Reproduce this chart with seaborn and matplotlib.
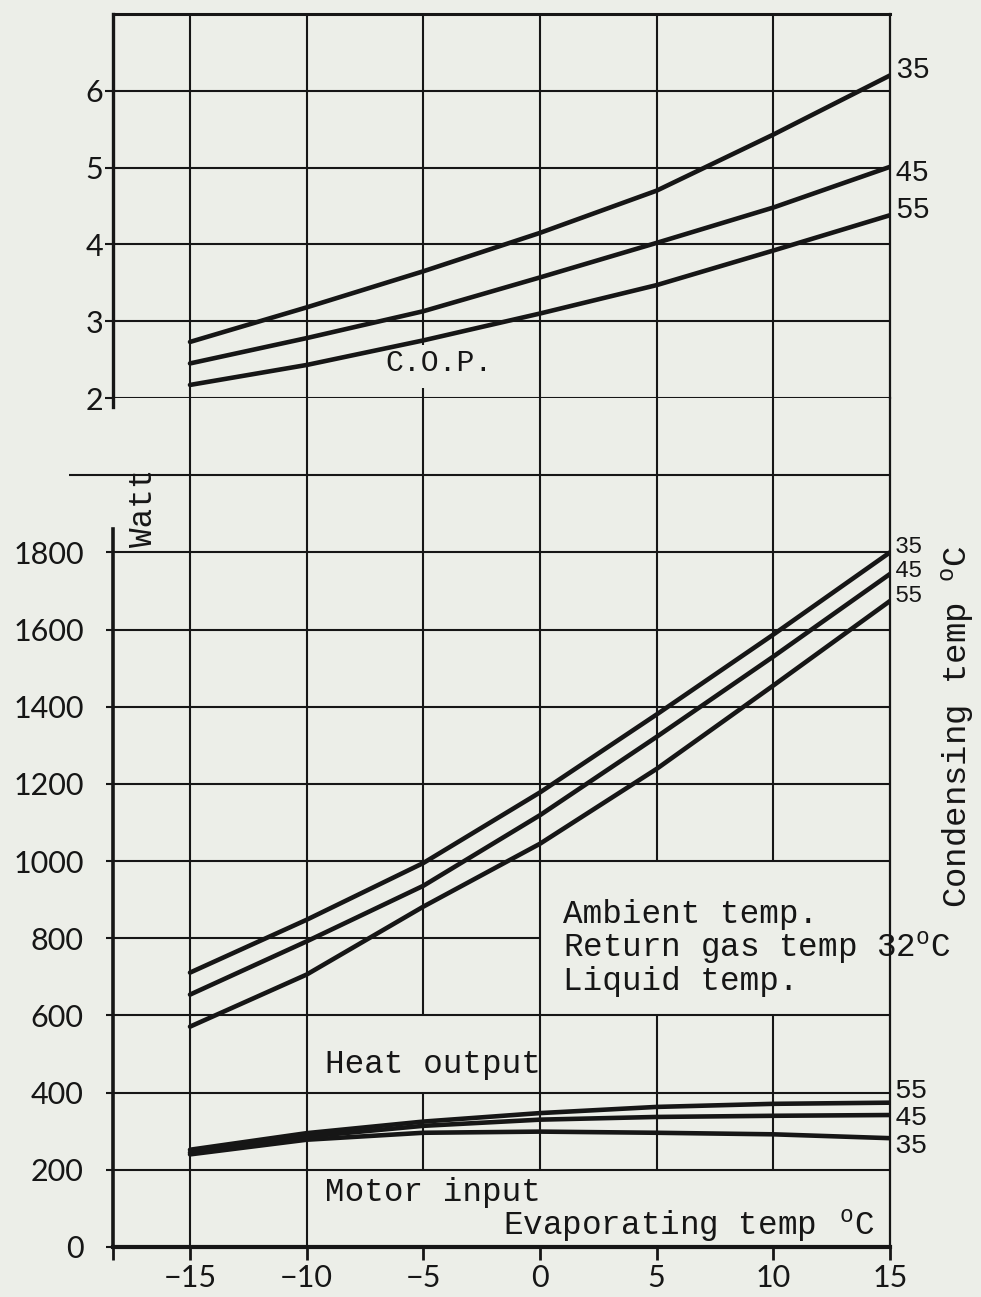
import matplotlib
matplotlib.use("Agg")
import matplotlib.pyplot as plt
import numpy as np
import pandas as pd
import seaborn as sns

# ---------------- data ----------------
evap_temp = [-15, -10, -5, 0, 5, 10, 15]          # Evaporating temp °C
cond_temps = [35, 45, 55]                          # Condensing temp °C

cop_35 = [2.73, 3.18, 3.65, 4.15, 4.70, 5.43, 6.20]
cop_45 = [2.45, 2.78, 3.13, 3.57, 4.02, 4.48, 5.01]
cop_55 = [2.17, 2.43, 2.75, 3.10, 3.47, 3.92, 4.38]

heat_35 = [711, 848, 995, 1178, 1380, 1587, 1800]
heat_45 = [654, 792, 936, 1119, 1322, 1530, 1744]
heat_55 = [571, 706, 882, 1045, 1239, 1455, 1674]

motor_35 = [240, 278, 296, 299, 296, 292, 282]
motor_45 = [245, 286, 314, 330, 337, 340, 342]
motor_55 = [252, 295, 325, 347, 363, 371, 374]

x_ticks = [-15, -10, -5, 0, 5, 10, 15]
watt_ticks = [0, 200, 400, 600, 800, 1000, 1200, 1400, 1600, 1800]
cop_ticks = [2, 3, 4, 5, 6]

# end-of-curve label positions (text placement), order 35, 45, 55
cop_label_y = [6.27, 4.93, 4.45]
heat_label_y = [1815, 1752, 1688]
motor_label_y = [262, 335, 405]

# ---------------- long-form frames ----------------
def long(series, name):
    rows = []
    for c, vals in zip(cond_temps, series):
        for x, v in zip(evap_temp, vals):
            rows.append({"evap": x, "value": v, "curve": f"{name}{c}"})
    return rows

df_cop = pd.DataFrame(long([cop_35, cop_45, cop_55], "cop"))
df_w = pd.DataFrame(long([heat_35, heat_45, heat_55], "heat")
                    + long([motor_35, motor_45, motor_55], "motor"))

# ---------------- style ----------------
paper = "#eceee8"
ink = "#161616"
sns.set_theme(style="white", rc={"figure.facecolor": paper, "axes.facecolor": paper})
plt.rcParams["font.family"] = ["Lato", "DejaVu Sans"]
plt.rcParams["mathtext.fontset"] = "custom"
plt.rcParams["mathtext.rm"] = "Liberation Mono"
plt.rcParams["mathtext.it"] = "Liberation Mono"

W, H = 981, 1297
fig = plt.figure(figsize=(W / 100, H / 100), dpi=100, facecolor=paper)


def box(x0, y0, x1, y1):
    return [x0 / W, 1 - y1 / H, (x1 - x0) / W, (y1 - y0) / H]


ax_cop = fig.add_axes(box(113, 14, 890, 398))
ax_w = fig.add_axes(box(113, 398, 890, 1247))
XL = (-18.3, 15)
for ax in (ax_cop, ax_w):
    ax.set_xlim(*XL)
    ax.set_facecolor("none")
ax_cop.set_ylim(2, 7)
ax_w.set_ylim(0, 2200)

grid_kw = dict(color=ink, lw=1.5, zorder=1)

# --- grid: lower (Watt) panel, with gaps left around the lettering
vgaps = {-5: [(400, 600), (0, 200)], 0: [(0, 200)], 5: [(0, 200), (600, 1000)],
         10: [(0, 200), (600, 1000)]}
for xv in x_ticks[:-1]:
    segs = [(0, 2200)]
    for g0, g1 in sorted(vgaps.get(xv, [])):
        new = []
        for s0, s1 in segs:
            if g1 <= s0 or g0 >= s1:
                new.append((s0, s1))
            else:
                if s0 < g0:
                    new.append((s0, g0))
                if g1 < s1:
                    new.append((g1, s1))
        segs = new
    for s0, s1 in segs:
        ax_w.vlines(xv, s0, s1, **grid_kw)
for yv in watt_ticks[1:]:
    ax_w.hlines(yv, XL[0], 0 if yv == 800 else XL[1], **grid_kw)
ax_w.hlines(2000, -20.2, XL[1], clip_on=False, **grid_kw)

# --- grid: upper (COP) panel
for xv in x_ticks[:-1]:
    if xv == -5:
        ax_cop.vlines(xv, 2, 2.13, **grid_kw)
        ax_cop.vlines(xv, 2.69, 7, **grid_kw)
    else:
        ax_cop.vlines(xv, 2, 7, **grid_kw)
for yv in cop_ticks:
    ax_cop.hlines(yv, XL[0], XL[1], **grid_kw)

# ---------------- curves ----------------
sns.lineplot(data=df_cop, x="evap", y="value", units="curve", estimator=None,
             color=ink, lw=3.3, ax=ax_cop, legend=False, zorder=3)
sns.lineplot(data=df_w, x="evap", y="value", units="curve", estimator=None,
             color=ink, lw=3.3, ax=ax_w, legend=False, zorder=3)

# ---------------- spines & ticks ----------------
for ax in (ax_cop, ax_w):
    for s in ax.spines.values():
        s.set_color(ink)
    ax.set_xlabel("")
    ax.set_ylabel("")

ax_cop.spines["bottom"].set_visible(False)
ax_cop.spines["top"].set_linewidth(2.2)
ax_cop.spines["right"].set_linewidth(1.6)
ax_cop.spines["left"].set_linewidth(2.4)
ax_cop.spines["left"].set_bounds(1.88, 7)
ax_cop.set_xticks([])
ax_cop.set_yticks(cop_ticks)
ax_cop.set_yticklabels([str(t) for t in cop_ticks])
ax_cop.tick_params(axis="y", direction="out", length=6, width=1.5, pad=1,
                   labelsize=22, colors=ink, labelcolor=ink, left=True)

ax_w.spines["top"].set_visible(False)
ax_w.spines["right"].set_linewidth(1.6)
ax_w.spines["left"].set_linewidth(2.6)
ax_w.spines["left"].set_bounds(0, 1860)
ax_w.spines["bottom"].set_linewidth(3.0)
ax_w.set_yticks(watt_ticks)
ax_w.set_yticklabels([str(t) for t in watt_ticks])
ax_w.tick_params(axis="y", direction="out", length=5, width=1.5, pad=16,
                 labelsize=22, colors=ink, labelcolor=ink, left=True)
ax_w.set_xticks(x_ticks)
ax_w.set_xticklabels([str(t).replace("-", "\u2212") for t in x_ticks])
ax_w.set_xticks([XL[0]], minor=True)
ax_w.tick_params(axis="x", which="both", direction="out", length=9, width=2,
                 pad=3, labelsize=22, colors=ink, labelcolor=ink, bottom=True)

for t in ax_cop.get_yticklabels() + ax_w.get_yticklabels() + ax_w.get_xticklabels():
    t.set_fontweight("normal")
    t.set_color(ink)

# ---------------- text ----------------
mono = "Liberation Mono"
tkw = dict(family=mono, color=ink)

for c, yl in zip(cond_temps, cop_label_y):
    ax_cop.text(15.2, yl, str(c), fontsize=21, ha="left", va="center", clip_on=False, **tkw)
for c, yl in zip(cond_temps, heat_label_y):
    ax_w.text(15.2, yl, str(c), fontsize=17, ha="left", va="center", clip_on=False, **tkw)
for c, yl in zip(cond_temps, motor_label_y):
    ax_w.text(15.2, yl, str(c), fontsize=20, ha="left", va="center", clip_on=False, **tkw)

fs = 23.5
ax_cop.text(-6.64, 2.45, "C.O.P.", fontsize=21.5, ha="left", va="center", **tkw)
ax_w.text(-9.2, 472, "Heat output", fontsize=fs, ha="left", va="center", **tkw)
ax_w.text(-9.2, 140, "Motor input", fontsize=fs, ha="left", va="center", **tkw)
ax_w.text(-1.58, 57, "Evaporating temp $\\,^{\\mathrm{o}}$C", fontsize=fs, ha="left",
          va="center", **tkw)
ax_w.text(0.99, 862, "Ambient temp.", fontsize=fs, ha="left", va="center", **tkw)
ax_w.text(0.99, 776, "Return gas temp 32$^{\\mathrm{o}}$C", fontsize=fs, ha="left",
          va="center", clip_on=False, **tkw)
ax_w.text(0.99, 688, "Liquid temp.", fontsize=fs, ha="left", va="center", **tkw)
ax_w.text(-17.0, 1915, "Watt", fontsize=fs, rotation=90, ha="center", va="center", **tkw)
ax_w.text(17.9, 1349, "Condensing temp $^{\\mathrm{o}}$C", fontsize=24.5, rotation=90,
          ha="center", va="center", clip_on=False, **tkw)

fig.savefig("out.png", dpi=100, facecolor=paper)
